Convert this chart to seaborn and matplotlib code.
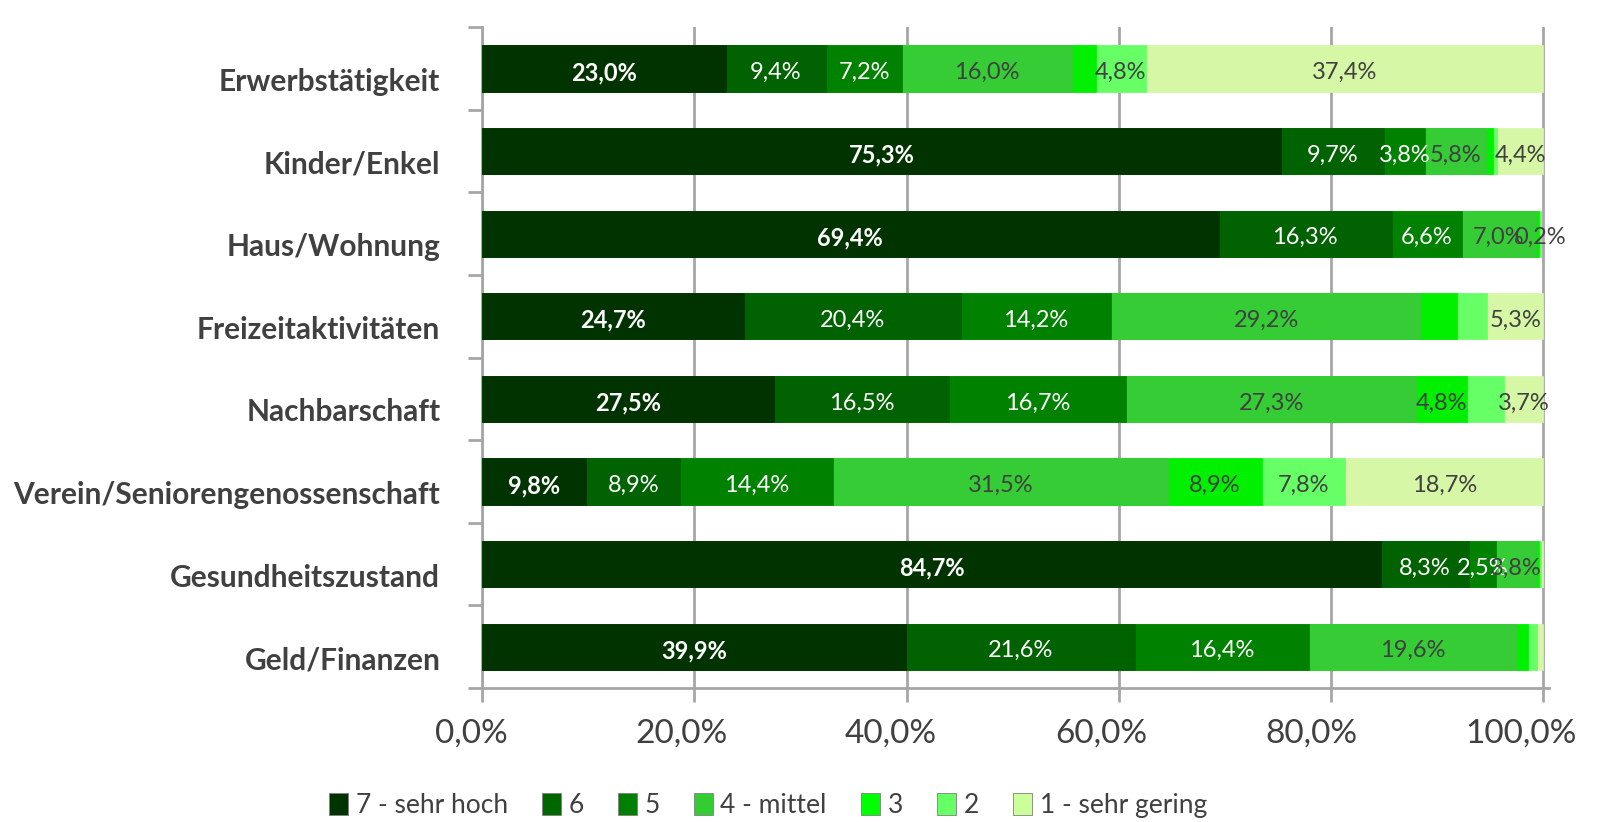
import matplotlib
matplotlib.use("Agg")
import matplotlib.pyplot as plt
import matplotlib.transforms as mtransforms
import seaborn as sns
import pandas as pd
import numpy as np
from matplotlib.patches import Patch

categories = ["Erwerbstätigkeit", "Kinder/Enkel", "Haus/Wohnung", "Freizeitaktivitäten",
              "Nachbarschaft", "Verein/Seniorengenossenschaft", "Gesundheitszustand", "Geld/Finanzen"]
levels = ["7 - sehr hoch", "6", "5", "4 - mittel", "3", "2", "1 - sehr gering"]

v7 = [23.0, 75.3, 69.4, 24.7, 27.5, 9.8, 84.7, 39.9]
v6 = [9.4, 9.7, 16.3, 20.4, 16.5, 8.9, 8.3, 21.6]
v5 = [7.2, 3.8, 6.6, 14.2, 16.7, 14.4, 2.5, 16.4]
v4 = [16.0, 5.8, 7.0, 29.2, 27.3, 31.5, 3.8, 19.6]
v3 = [2.2, 0.6, 0.3, 3.4, 4.8, 8.9, 0.3, 1.0]
v2 = [4.8, 0.4, 0.2, 2.8, 3.5, 7.8, 0.2, 0.9]
v1 = [37.4, 4.4, 0.0, 5.3, 3.7, 18.7, 0.2, 0.6]

# which data labels are shown in the reference (1 = shown)
show7 = [1, 1, 1, 1, 1, 1, 1, 1]
show6 = [1, 1, 1, 1, 1, 1, 1, 1]
show5 = [1, 1, 1, 1, 1, 1, 1, 1]
show4 = [1, 1, 1, 1, 1, 1, 1, 1]
show3 = [0, 0, 0, 0, 1, 1, 0, 0]
show2 = [1, 0, 1, 0, 0, 1, 0, 0]
show1 = [1, 1, 0, 1, 1, 1, 0, 0]

xticks = [0, 20, 40, 60, 80, 100]
xticklabels = ["0,0%", "20,0%", "40,0%", "60,0%", "80,0%", "100,0%"]

colors = ["#013301", "#006200", "#008200", "#35cc35", "#00f000", "#66ff66", "#d6f7a6"]
legend_colors = ["#003300", "#006600", "#008000", "#33cc33", "#00ff00", "#66ff66", "#ccff99"]
label_colors = ["white", "white", "white", "#404040", "#404040", "#404040", "#404040"]

series = [v7, v6, v5, v4, v3, v2, v1]
shows = [show7, show6, show5, show4, show3, show2, show1]

sns.set_theme(style="white")
plt.rcParams["font.family"] = ["Lato", "DejaVu Sans"]

fig = plt.figure(figsize=(15.97, 8.22), dpi=100)
ax = fig.add_axes([0.3018, 0.163, 0.668, 0.804])

vals = np.array(series)  # shape (7, 8)
cum = np.cumsum(vals, axis=0)

# draw cumulative bars from the full total back to the first segment
for k in range(len(levels) - 1, -1, -1):
    df = pd.DataFrame({"cat": categories, "val": cum[k]})
    sns.barplot(data=df, x="val", y="cat", orient="h", color=colors[k],
                saturation=1, width=0.56, ax=ax, zorder=3,
                edgecolor=colors[k], linewidth=0.5)

# data labels
for k in range(len(levels)):
    starts = cum[k] - vals[k]
    for i in range(len(categories)):
        if shows[k][i]:
            txt = f"{vals[k][i]:.1f}%".replace(".", ",")
            ax.text(starts[i] + vals[k][i] / 2, i + 0.05, txt, ha="center", va="center",
                    color=label_colors[k], fontsize=17,
                    fontweight="bold" if k == 0 else "normal", zorder=5)

ax.set_xlim(0, 100.5)
ax.set_ylim(len(categories) - 0.5, -0.5)
ax.set_xticks(xticks)
ax.set_xticklabels([])
ax.set_ylabel("")
ax.set_xlabel("")

# x tick labels drawn as text, shifted left like the 3D front floor of the reference
blend = mtransforms.blended_transform_factory(ax.transData, ax.transAxes)
for xv, lab in zip(xticks, xticklabels):
    shift = -0.11 - 0.0011 * xv
    ax.text(xv, 0, lab, transform=blend + mtransforms.ScaledTranslation(shift, -0.46, fig.dpi_scale_trans),
            ha="center", va="center", fontsize=24, color="#404040")

ax.tick_params(axis="y", labelsize=21.5, labelcolor="#404040", length=0, pad=30)
for lab in ax.get_yticklabels():
    lab.set_fontweight("bold")
ax.tick_params(axis="x", length=10, width=2, color="#a6a6a6", direction="out", bottom=True)

# grid / frame
ax.grid(axis="x", color="#a6a6a6", linewidth=2, zorder=0)
ax.set_axisbelow(True)
for side in ["top", "right"]:
    ax.spines[side].set_visible(False)
for side in ["left", "bottom"]:
    ax.spines[side].set_color("#a6a6a6")
    ax.spines[side].set_linewidth(2)
ax.set_yticks(np.arange(-0.5, len(categories), 1), minor=True)
ax.tick_params(axis="y", which="minor", length=10, width=2, color="#a6a6a6", left=True)

# push category labels a little below bar centres as in the reference
fig.canvas.draw()
for lab in ax.get_yticklabels():
    lab.set_transform(lab.get_transform() + mtransforms.ScaledTranslation(0, -0.11, fig.dpi_scale_trans))

handles = [Patch(facecolor=c, edgecolor="#7f7f7f", linewidth=0.6) for c in legend_colors]
fig.legend(handles, levels, loc="center", bbox_to_anchor=(0.481, 0.02), ncol=7,
           frameon=False, fontsize=19, handlelength=0.7, handleheight=0.9,
           handletextpad=0.3, columnspacing=1.3, labelcolor="#404040")

fig.savefig("out.png", dpi=100, facecolor="white")
